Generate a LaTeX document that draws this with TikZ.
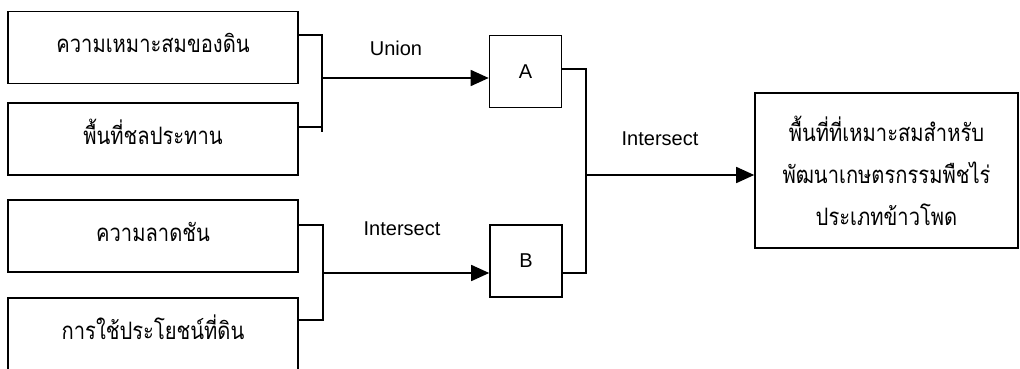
\documentclass[tikz,border=0pt]{standalone}
\usepackage{fontspec}
\setmainfont{Liberation Sans}
\newfontfamily\thaifont[Script=Thai,FakeStretch=0.84]{Loma}
\usetikzlibrary{arrows.meta,calc}
\begin{document}
\begin{tikzpicture}[x=1pt,y=-1pt,
  line width=1.6pt,
  inbox/.style={draw,line width=1.6pt,minimum width=290pt,minimum height=72pt,inner sep=0pt,text height=16pt,text depth=5pt,font=\thaifont\fontsize{24}{28}\selectfont},
  opbox/.style={draw,line width=1.6pt,minimum width=72pt,minimum height=72pt,inner sep=0pt,font=\fontsize{20}{24}\selectfont},
  outbox/.style={draw,line width=1.6pt,minimum width=263pt,minimum height=155pt,inner sep=0pt,align=center,font=\thaifont\fontsize{24}{42}\selectfont},
  lbl/.style={font=\fontsize{20}{24}\selectfont,inner sep=0pt},
  arr/.style={-{Triangle[length=18pt,width=16pt]}},
  conn/.style={line width=1.6pt}]
\clip (0,0) rectangle (1020,369);
\useasboundingbox (0,0) rectangle (1020,369);
\fill[white] (0,0) rectangle (1020,369);
% input boxes
\node[inbox] (b1) at (153,47.5) {ความเหมาะสมของดิน};
\node[inbox] (b2) at (153,139) {พื้นที่ชลประทาน};
\node[inbox] (b3) at (153,236) {ความลาดชัน};
\node[inbox] (b4) at (153,334) {การใช้ประโยชน์ที่ดิน};
% operation boxes
\node[opbox] (A) at (525.5,71.5) {A};
\node[opbox] (B) at (526,261) {B};
% output box
\node[outbox] (F) at (886.5,170.5) {พื้นที่ที่เหมาะสมสำหรับ\\พัฒนาเกษตรกรรมพืชไร่\\ประเภทข้าวโพด};
% joints
\coordinate (j1a) at (322,35);
\coordinate (j1b) at (322,127);
\coordinate (j1m) at (322,78);
\coordinate (j2a) at (323,225);
\coordinate (j2b) at (323,320);
\coordinate (j2m) at (323,273);
\coordinate (j3a) at (586,69);
\coordinate (j3b) at (586,273);
\coordinate (j3m) at (586,175);
% brackets
\draw[conn] (b1.east |- j1a) -- (j1a) -- ($(j1b)+(0,5)$);
\draw[conn] (b2.east |- j1b) -- (j1b);
\draw[conn,arr] (j1m) -- (A.west |- j1m);
\draw[conn] (b3.east |- j2a) -- (j2a) -- (j2b) -- (b4.east |- j2b);
\draw[conn,arr] (j2m) -- (B.west |- j2m);
\draw[conn] (A.east |- j3a) -- (j3a) -- (j3b) -- (B.east |- j3b);
\draw[conn,arr] (j3m) -- (F.west |- j3m);
% labels
\node[lbl] (lu) at (396,48) {Union};
\node[lbl] (li1) at (402,229) {Intersect};
\node[lbl] (li2) at (660,139) {Intersect};
\end{tikzpicture}
\end{document}
